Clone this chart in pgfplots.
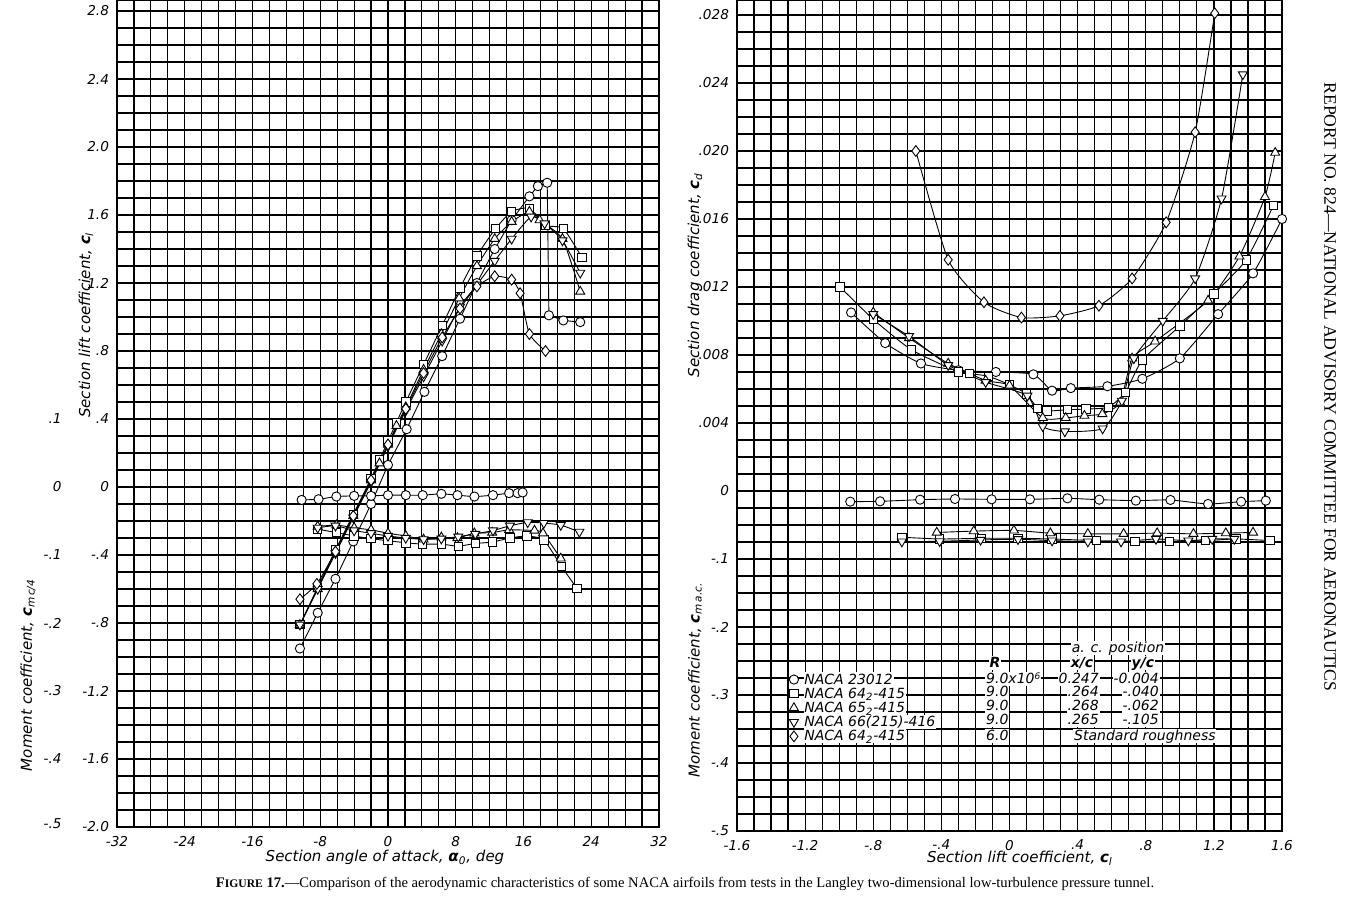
\documentclass[border=0pt]{standalone}
\usepackage{pgfplots}
\pgfplotsset{compat=1.18}
\usepackage{pgfplotstable}
\usepackage{fontspec}
\setmainfont{Liberation Serif}
\newfontfamily\lett{DejaVu Sans}
\newcommand\lf[1]{\lett\itshape\fontsize{#1}{#1}\selectfont}

% ---------- left panel: lift ----------
\pgfplotstableread{
a cl
-10.4 -0.95
-8.3 -0.74
-6.2 -0.54
-4.1 -0.32
-2.0 -0.10
0.0 0.13
2.2 0.34
4.3 0.56
6.4 0.77
8.5 0.99
10.5 1.20
12.6 1.40
14.6 1.57
16.7 1.71
17.7 1.77
18.8 1.79
19.0 1.01
20.7 0.98
22.7 0.97
}\Lone
\pgfplotstableread{
a cl
-10.4 -0.81
-8.3 -0.59
-6.2 -0.37
-4.1 -0.16
-2.0 0.05
-1.0 0.16
0.0 0.27
1.0 0.38
2.1 0.50
4.2 0.72
6.4 0.95
8.5 1.17
10.5 1.36
12.7 1.52
14.6 1.62
16.7 1.64
18.6 1.54
20.7 1.52
22.9 1.35
}\Ltwo
\pgfplotstableread{
a cl
-10.4 -0.81
-8.3 -0.60
-6.2 -0.38
-4.1 -0.17
-2.0 0.04
-1.0 0.14
0.0 0.25
1.0 0.36
2.1 0.47
4.2 0.69
6.3 0.90
8.4 1.11
10.5 1.30
12.6 1.46
14.6 1.56
16.7 1.62
17.9 1.57
20.6 1.46
22.7 1.15
}\Lthree
\pgfplotstableread{
a cl
-10.4 -0.81
-8.3 -0.60
-6.2 -0.39
-4.1 -0.18
-2.0 0.03
0.0 0.24
2.1 0.45
4.2 0.65
6.4 0.86
8.5 1.06
10.5 1.19
12.6 1.33
14.6 1.46
16.9 1.59
18.5 1.55
20.6 1.45
22.7 1.26
}\Lfour
\pgfplotstableread{
a cl
-10.4 -0.66
-8.4 -0.57
-6.2 -0.38
-4.1 -0.17
-2.0 0.04
0.0 0.25
2.1 0.46
4.2 0.67
6.4 0.88
8.5 1.05
10.5 1.18
12.6 1.24
14.6 1.22
15.6 1.14
16.7 0.90
18.6 0.80
}\Lfive
% ---------- left panel: moment c_m c/4 ----------
\pgfplotstableread{
a cm
-10.2 -0.019
-8.2 -0.018
-6.1 -0.014
-4.0 -0.013
-2.0 -0.013
0.0 -0.012
2.1 -0.012
4.1 -0.012
6.3 -0.010
8.2 -0.012
10.2 -0.014
12.4 -0.012
14.3 -0.009
15.3 -0.009
15.9 -0.008
}\Mone
\pgfplotstableread{
a cm
-8.3 -0.062
-6.1 -0.067
-4.0 -0.072
-2.0 -0.076
0.0 -0.079
2.1 -0.082
4.1 -0.084
6.3 -0.084
8.3 -0.087
10.3 -0.083
12.3 -0.081
14.4 -0.075
16.4 -0.072
18.4 -0.078
20.5 -0.117
22.3 -0.149
}\Mtwo
\pgfplotstableread{
a cm
-8.3 -0.058
-6.1 -0.056
-4.0 -0.060
-2.0 -0.063
0.0 -0.068
2.1 -0.072
4.2 -0.077
6.3 -0.074
8.2 -0.075
10.2 -0.068
12.3 -0.067
14.3 -0.063
17.3 -0.064
18.3 -0.068
20.4 -0.105
}\Mthree
\pgfplotstableread{
a cm
-8.3 -0.060
-6.2 -0.057
-4.0 -0.064
-2.0 -0.068
0.0 -0.072
2.1 -0.075
4.2 -0.077
6.3 -0.076
8.3 -0.073
10.3 -0.069
12.4 -0.064
14.4 -0.057
16.5 -0.052
18.4 -0.053
20.4 -0.056
22.6 -0.066
}\Mfour
% ---------- right panel: drag ----------
\pgfplotstableread{
cl cd
-0.93 0.0105
-0.73 0.0087
-0.52 0.0075
-0.30 0.0071
-0.08 0.0070
0.14 0.00686
0.25 0.0059
0.36 0.00605
0.575 0.00616
0.78 0.0066
1.00 0.0078
1.225 0.0104
1.43 0.0128
1.60 0.0160
}\Done
\pgfplotstableread{
cl cd
-0.995 0.0120
-0.80 0.0101
-0.575 0.0083
-0.30 0.0070
-0.236 0.0069
-0.124 0.00675
0.0 0.00625
0.10 0.0057
0.165 0.00486
0.22 0.0047
0.34 0.00478
0.45 0.00482
0.58 0.00493
0.68 0.0058
0.78 0.0077
1.00 0.0097
1.20 0.0116
1.39 0.0136
1.55 0.0168
}\Dtwo
\pgfplotstableread{
cl cd
-0.80 0.0105
-0.59 0.0090
-0.36 0.0075
-0.14 0.0065
0.0 0.0062
0.195 0.0043
0.33 0.0043
0.44 0.00443
0.545 0.00453
0.65 0.0052
0.72 0.0078
0.855 0.0088
1.166 0.0112
1.35 0.0138
1.50 0.0173
1.56 0.0199
}\Dthree
\pgfplotstableread{
cl cd
-0.80 0.0104
-0.59 0.0091
-0.36 0.0074
-0.14 0.0064
0.105 0.0056
0.195 0.0038
0.325 0.0035
0.547 0.00367
0.66 0.0053
0.73 0.0078
0.90 0.0100
1.09 0.0125
1.245 0.0172
1.37 0.0245
}\Dfour
\pgfplotstableread{
cl cd
-0.55 0.0200
-0.36 0.0136
-0.15 0.0111
0.07 0.0102
0.296 0.0103
0.525 0.0109
0.72 0.0125
0.92 0.0158
1.09 0.0211
1.205 0.0281
}\Dfive
% ---------- right panel: moment c_m a.c. ----------
\pgfplotstableread{
cl cm
-0.935 -0.0157
-0.76 -0.0152
-0.525 -0.0128
-0.32 -0.0118
-0.105 -0.0123
0.12 -0.0123
0.34 -0.0108
0.527 -0.0128
0.742 -0.0142
0.945 -0.0132
1.166 -0.0191
1.36 -0.0157
1.505 -0.0142
}\Rone
\pgfplotstableread{
cl cm
-0.632 -0.068
-0.41 -0.0706
-0.165 -0.0696
0.05 -0.0696
0.25 -0.0706
0.51 -0.073
0.736 -0.074
0.94 -0.074
1.15 -0.073
1.33 -0.0706
1.53 -0.073
}\Rtwo
\pgfplotstableread{
cl cm
-0.427 -0.061
-0.21 -0.059
0.026 -0.058
0.24 -0.062
0.46 -0.063
0.67 -0.063
0.867 -0.062
1.08 -0.063
1.27 -0.062
1.43 -0.061
}\Rthree
\pgfplotstableread{
cl cm
-0.632 -0.0745
-0.41 -0.0740
-0.17 -0.0720
0.05 -0.0710
0.25 -0.0730
0.46 -0.0745
0.655 -0.0745
0.86 -0.0706
1.05 -0.0730
1.19 -0.0706
1.32 -0.0706
}\Rfour

\pgfplotsset{
  ser/.style={black, line width=0.45pt, smooth, tension=0.35},
  circ/.style={ser, mark=*, mark size=2.3pt, mark options={fill=white, solid, line width=0.45pt}},
  sq/.style={ser, mark=square*, mark size=2.1pt, mark options={fill=white, solid, line width=0.45pt}},
  tri/.style={ser, mark=triangle*, mark size=2.6pt, mark options={fill=white, solid, line width=0.45pt}},
  itri/.style={ser, mark=triangle*, mark size=2.6pt, mark options={fill=white, solid, line width=0.45pt, rotate=180}},
  dia/.style={ser, mark=diamond*, mark size=2.7pt, mark options={fill=white, solid, line width=0.45pt}},
  paper/.style={
    scale only axis, anchor=south west,
    grid=both, minor x tick num=3, minor y tick num=3,
    major grid style={black, line width=0.62pt},
    minor grid style={black, line width=0.62pt},
    major tick length=0pt, minor tick length=0pt,
    axis line style={black, line width=0.9pt},
    ticklabel style={font=\lf{6.8}},
    xticklabel style={yshift=-1pt},
    yticklabel style={xshift=-0.5pt},
  },
}

\begin{document}
\begin{tikzpicture}[x=0.5pt,y=0.5pt]
\useasboundingbox (0,0) rectangle (1367,906);

% ================= LEFT PANEL =================
\begin{axis}[paper,
  at={(58.5pt,39.5pt)}, width=271pt, height=413.5pt,
  xmin=-32, xmax=32, ymin=-2, ymax=2.865,
  xtick={-32,-24,-16,-8,0,8,16,24,32},
  xticklabels={-32,-24,-16,-8,0,8,16,24,32},
  ytick={-2,-1.6,-1.2,-0.8,-0.4,0,0.4,0.8,1.2,1.6,2.0,2.4,2.8},
  yticklabels={-2.0,-1.6,-1.2,-.8,-.4,0,.4,.8,1.2,1.6,2.0,2.4,2.8},
]
\addplot[circ, sharp plot] table[x=a, y=cl] {\Lone};
\addplot[sq] table[x=a, y=cl] {\Ltwo};
\addplot[tri] table[x=a, y=cl] {\Lthree};
\addplot[itri] table[x=a, y=cl] {\Lfour};
\addplot[dia] table[x=a, y=cl] {\Lfive};
\addplot[circ] table[x=a, y expr=4*\thisrow{cm}] {\Mone};
\addplot[sq] table[x=a, y expr=4*\thisrow{cm}] {\Mtwo};
\addplot[tri] table[x=a, y expr=4*\thisrow{cm}] {\Mthree};
\addplot[itri] table[x=a, y expr=4*\thisrow{cm}] {\Mfour};
\end{axis}

% moment scale of the left panel (c_m c/4 = c_l/4)
\begin{scope}[every node/.style={anchor=east, font=\lf{6.8}, inner sep=0pt}]
\node at (62,487) {.1};
\node at (62,419) {0};
\node at (62,351) {-.1};
\node at (62,283) {-.2};
\node at (62,215) {-.3};
\node at (62,147) {-.4};
\node at (62,82) {-.5};
\end{scope}

% ================= RIGHT PANEL =================
\begin{axis}[paper,
  at={(368.5pt,37.5pt)}, width=272.5pt, height=415.5pt,
  xmin=-1.6, xmax=1.6, ymin=-0.020, ymax=0.02888,
  xtick={-1.6,-1.2,-0.8,-0.4,0,0.4,0.8,1.2,1.6},
  xticklabels={-1.6,-1.2,-.8,-.4,0,.4,.8,1.2,1.6},
  ytick={-0.020,-0.016,-0.012,-0.008,-0.004,0,0.004,0.008,0.012,0.016,0.020,0.024,0.028},
  yticklabels={-.5,-.4,-.3,-.2,-.1,0,.004,.008,.012,.016,.020,.024,.028},
  scaled y ticks=false,
  legend style={at={(axis cs:-1.295,-0.01065)}, anchor=north west, draw=none, fill=none,
    font=\lf{7}, inner sep=0pt, row sep=0pt,
    nodes={fill=white, inner sep=0.4pt, text height=5.4pt, text depth=0.9pt},
    /tikz/every odd column/.append style={column sep=2.5pt}},
  legend cell align=left,
  legend image code/.code={\draw[#1] plot coordinates {(0.12cm,0cm)};},
]
\addplot[circ] table[x=cl, y=cd] {\Done};
\addlegendentry{NACA 23012}
\addplot[sq] table[x=cl, y=cd] {\Dtwo};
\addlegendentry{NACA 64\textsubscript{2}-415}
\addplot[tri] table[x=cl, y=cd] {\Dthree};
\addlegendentry{NACA 65\textsubscript{2}-415}
\addplot[itri] table[x=cl, y=cd] {\Dfour};
\addlegendentry{NACA 66(215)-416}
\addplot[dia] table[x=cl, y=cd] {\Dfive};
\addlegendentry{NACA 64\textsubscript{2}-415}
\addplot[circ, forget plot] table[x=cl, y expr=0.04*\thisrow{cm}] {\Rone};
\addplot[sq, forget plot] table[x=cl, y expr=0.04*\thisrow{cm}] {\Rtwo};
\addplot[tri, forget plot] table[x=cl, y expr=0.04*\thisrow{cm}] {\Rthree};
\addplot[itri, forget plot] table[x=cl, y expr=0.04*\thisrow{cm}] {\Rfour};
\end{axis}

% ---------- legend table text ----------
\begin{scope}[every node/.style={fill=white, inner sep=0.4pt, font=\lf{7}, text height=5.2pt, text depth=0.6pt}]
\node at (1118,258) {a. c. position};
\node at (995,243) {\bfseries R};
\node at (1082,243) {\bfseries x/c};
\node at (1143,243) {\bfseries y/c};
\node[anchor=west] at (985,227) {9.0x10\raisebox{0.5ex}{\fontsize{4.5}{5}\selectfont 6}};
\node[anchor=west] at (985,214) {9.0};
\node[anchor=west] at (985,200) {9.0};
\node[anchor=west] at (985,186) {9.0};
\node[anchor=west] at (985,170) {6.0};
\node[anchor=east] at (1100,227) {0.247};
\node[anchor=east] at (1100,214) {.264};
\node[anchor=east] at (1100,200) {.268};
\node[anchor=east] at (1100,186) {.265};
\node[anchor=east] at (1160,227) {-0.004};
\node[anchor=east] at (1160,214) {-.040};
\node[anchor=east] at (1160,200) {-.062};
\node[anchor=east] at (1160,186) {-.105};
\node[anchor=west] at (1073,170) {Standard roughness};
\end{scope}

% ---------- axis titles ----------
\node[rotate=90, font=\lf{7.5}] at (86,581) {Section lift coefficient, \textbf{c}\textsubscript{\itshape l}};
\node[rotate=90, font=\lf{7.5}] at (28,231) {Moment coefficient, \textbf{c}\textsubscript{\itshape m\,c/4}};
\node[font=\lf{7.5}] at (385,49) {Section angle of attack, \textbf{α}\textsubscript{0}, deg};
\node[rotate=90, font=\lf{7.5}] at (695,631) {Section drag coefficient, \textbf{c}\textsubscript{\itshape d}};
\node[rotate=90, font=\lf{7.5}] at (695,226) {Moment coefficient, \textbf{c}\textsubscript{\itshape m\,a.c.}};
\node[font=\lf{7.5}] at (1020,48) {Section lift coefficient, \textbf{c}\textsubscript{\itshape l}};

% ---------- caption and running head ----------
\node[font=\fontsize{7.3}{8}\selectfont] at (685,22) {\textbf{F{\fontsize{5.8}{6}\selectfont IGURE} 17.}—Comparison of the aerodynamic characteristics of some NACA airfoils from tests in the Langley two-dimensional low-turbulence pressure tunnel.};
\node[rotate=-90, font=\fontsize{8.8}{9}\selectfont] at (1330,519) {REPORT NO. 824—NATIONAL ADVISORY COMMITTEE FOR AERONAUTICS};
\end{tikzpicture}
\end{document}
